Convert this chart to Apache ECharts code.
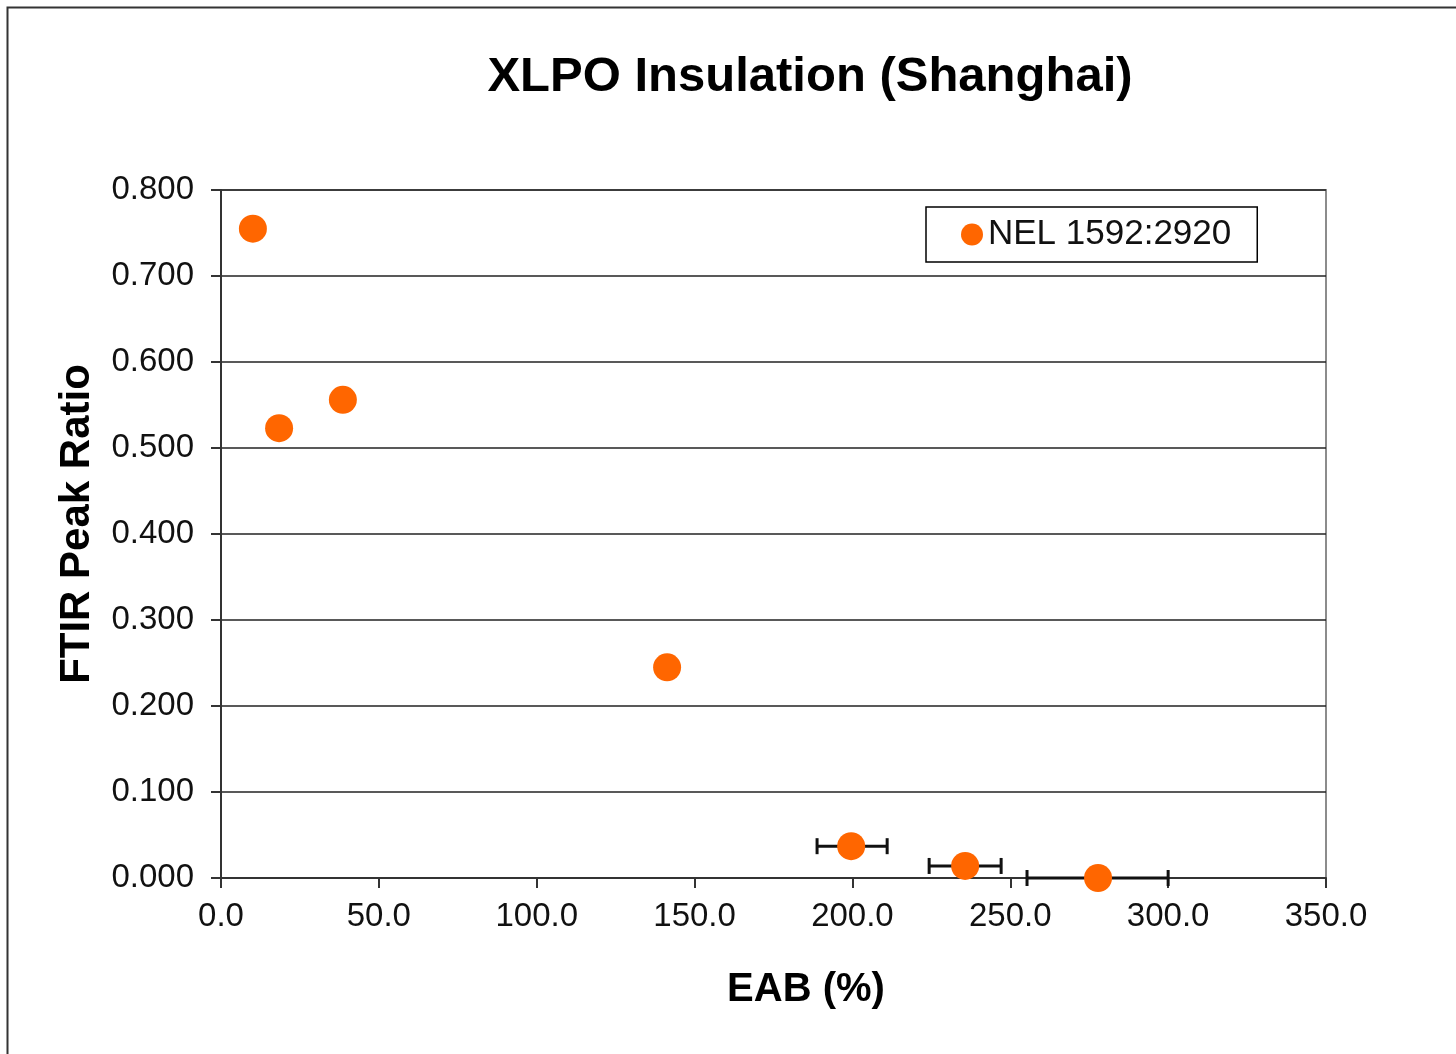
<!DOCTYPE html>
<html>
<head>
<meta charset="utf-8">
<script src="https://cdn.jsdelivr.net/npm/echarts@6/dist/echarts.min.js"></script>
<style>
html,body{margin:0;padding:0;background:#fff;}
#c{width:1456px;height:1054px;}
</style>
</head>
<body>
<div id="c"></div>
<script>
var seriesName = 'NEL 1592:2920';
var eabValues = [10.1, 18.4, 38.6, 141.3, 199.6, 235.7, 277.8];
var ratioValues = [0.755, 0.523, 0.556, 0.245, 0.037, 0.014, 0.000];
var eabLow = [null, null, null, null, 188.8, 224.3, 255.3];
var eabHigh = [null, null, null, null, 211.0, 247.1, 300.0];
var xTicks = [0, 50, 100, 150, 200, 250, 300, 350];
var yTicks = [0, 0.1, 0.2, 0.3, 0.4, 0.5, 0.6, 0.7, 0.8];

var chart = echarts.init(document.getElementById('c'), null, {renderer: 'canvas'});

var points = eabValues.map(function (x, i) { return [x, ratioValues[i]]; });
var errData = [];
eabValues.forEach(function (x, i) {
  if (eabLow[i] !== null) errData.push([eabLow[i], eabHigh[i], ratioValues[i]]);
});

var font = 'Arial, "Liberation Sans", sans-serif';

chart.setOption({
  animation: false,
  backgroundColor: '#fff',
  title: {
    text: 'XLPO Insulation (Shanghai)',
    left: 805, top: 48, textAlign: 'center',
    textStyle: {fontFamily: font, fontSize: 49, fontWeight: 'bold', color: '#000'}
  },
  grid: {left: 221, right: 130, top: 190, bottom: 176, show: true, borderColor: '#8c8c8c', borderWidth: 2, backgroundColor: 'transparent'},
  legend: {
    show: true,
    data: [seriesName],
    left: 926, top: 207,
    padding: [10, 26, 10, 35],
    borderColor: '#000', borderWidth: 1.5,
    itemWidth: 22, itemHeight: 22, itemGap: 4,
    icon: 'circle',
    textStyle: {fontFamily: font, fontSize: 35, color: '#111', padding: [0, 0, 0, 0]}
  },
  xAxis: {
    type: 'value', min: 0, max: 350, interval: 50,
    axisLine: {show: true, lineStyle: {color: '#333', width: 2}},
    axisTick: {show: true, length: 10, lineStyle: {color: '#333', width: 2}},
    axisLabel: {fontFamily: font, fontSize: 33, color: '#111', margin: 22,
      formatter: function (v) { return v.toFixed(1); }},
    splitLine: {show: false}
  },
  yAxis: {
    type: 'value', min: 0, max: 0.8, interval: 0.1,
    axisLine: {show: true, lineStyle: {color: '#333', width: 2}},
    axisTick: {show: true, length: 10, lineStyle: {color: '#333', width: 2}},
    axisLabel: {fontFamily: font, fontSize: 33, color: '#111', margin: 27,
      formatter: function (v) { return v.toFixed(3); }},
    splitLine: {show: true, lineStyle: {color: '#222', width: 1.5}}
  },
  graphic: [{
    type: 'rect', shape: {x: 7.5, y: 7.5, width: 1470, height: 1070},
    style: {fill: 'none', stroke: '#333', lineWidth: 2}, silent: true, z: -1
  }, {
    type: 'text', x: 806, y: 990,
    style: {text: 'EAB (%)', font: 'bold 40px Arial, "Liberation Sans", sans-serif', fill: '#000', align: 'center', verticalAlign: 'middle'}
  }, {
    type: 'text', x: 77, y: 524, rotation: Math.PI / 2,
    style: {text: 'FTIR Peak Ratio', font: 'bold 42px Arial, "Liberation Sans", sans-serif', fill: '#000', align: 'center', verticalAlign: 'middle'}
  }],
  series: [{
    type: 'custom',
    name: 'err',
    data: errData,
    z: 1,
    renderItem: function (params, api) {
      var p1 = api.coord([api.value(0), api.value(2)]);
      var p2 = api.coord([api.value(1), api.value(2)]);
      var h = 8;
      var st = {stroke: '#111', lineWidth: 3};
      return {type: 'group', children: [
        {type: 'line', shape: {x1: p1[0], y1: p1[1], x2: p2[0], y2: p2[1]}, style: st},
        {type: 'line', shape: {x1: p1[0], y1: p1[1] - h, x2: p1[0], y2: p1[1] + h}, style: st},
        {type: 'line', shape: {x1: p2[0], y1: p2[1] - h, x2: p2[0], y2: p2[1] + h}, style: st}
      ]};
    }
  }, {
    type: 'scatter',
    name: seriesName,
    data: points,
    symbol: 'circle',
    symbolSize: 28,
    z: 3,
    itemStyle: {color: '#ff6600', opacity: 1},
    clip: false
  }]
});
</script>
</body>
</html>
